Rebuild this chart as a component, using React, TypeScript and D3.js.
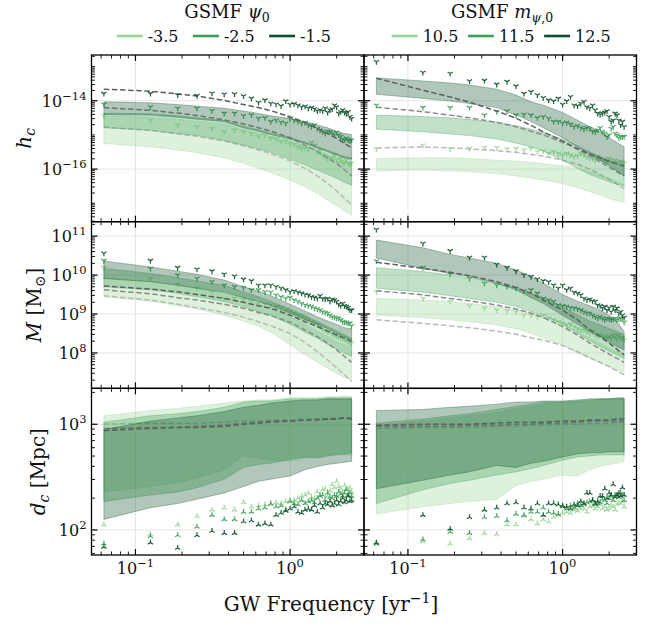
import React from "react";
import * as d3 from "d3";

// GW frequency bins f_i = i / T, T = 16 yr
const freqs = d3.range(1, 41).map((i) => i / 16);
// bins at which percentile bands and medians are tabulated
const bandIndex = [1, 2, 3, 4, 6, 8, 10, 12, 16, 20, 24, 28, 32, 36, 40];
const bandFreqs = bandIndex.map((i) => i / 16);

const psiLabels = ["-3.5", "-2.5", "-1.5"];
const mLabels = ["10.5", "11.5", "12.5"];
const groupColors = ["#98d594", "#3a9f55", "#0d5127"];
const medianColors = ["#b9b9b9", "#8b8b8b", "#5f5f5f"];

// ---- all values are log10; groups ordered [light, medium, dark] ----

// characteristic strain h_c, GSMF psi_0 variations
const hcPsiUpper = [
  [-14.44, -14.48, -14.54, -14.6, -14.67, -14.85, -14.95, -15.04, -15.18, -15.32, -15.45, -15.57, -15.67, -15.75, -15.79],
  [-14.36, -14.38, -14.44, -14.5, -14.58, -14.75, -14.85, -14.95, -15.08, -15.21, -15.34, -15.45, -15.55, -15.63, -15.67],
  [-14.03, -14.06, -14.11, -14.16, -14.22, -14.3, -14.37, -14.44, -14.52, -14.61, -14.71, -14.79, -14.89, -14.96, -14.99],
];
const hcPsiLower = [
  [-15.25, -15.35, -15.44, -15.52, -15.67, -15.83, -15.98, -16.1, -16.32, -16.52, -16.71, -16.91, -17.07, -17.23, -17.35],
  [-14.79, -14.86, -14.96, -15.02, -15.16, -15.3, -15.41, -15.51, -15.71, -15.88, -16.03, -16.16, -16.27, -16.39, -16.47],
  [-14.4, -14.42, -14.48, -14.54, -14.61, -14.79, -14.89, -14.99, -15.12, -15.25, -15.38, -15.49, -15.59, -15.67, -15.71],
];
const hcPsiMedian = [
  [-14.77, -14.87, -14.97, -15.04, -15.18, -15.32, -15.44, -15.55, -15.76, -15.98, -16.2, -16.42, -16.64, -16.86, -17.03],
  [-14.2, -14.28, -14.36, -14.43, -14.56, -14.68, -14.79, -14.89, -15.08, -15.3, -15.49, -15.67, -15.84, -16.02, -16.2],
  [-13.66, -13.72, -13.8, -13.86, -13.99, -14.11, -14.2, -14.29, -14.47, -14.64, -14.81, -14.96, -15.1, -15.25, -15.38],
];
const hcPsiLoud = [
  [-14.44, -14.57, -14.71, -14.76, -14.81, -14.91, -14.86, -14.91, -14.96, -15.05, -15.0, -15.1, -15.12, -15.2, -15.18, -15.25, -15.28, -15.35, -15.4, -15.38, -15.41, -15.22, -15.3, -15.49, -15.44, -15.59, -15.64, -15.69, -15.67, -15.69, -15.59, -15.74, -15.79, -15.69, -15.83, -15.79, -15.74, -15.83, -15.86, -15.83],
  [-14.1, -14.18, -14.22, -14.22, -14.29, -14.37, -14.37, -14.44, -14.42, -14.52, -14.5, -14.61, -14.57, -14.63, -14.66, -14.52, -14.57, -14.61, -14.66, -14.64, -14.71, -14.76, -14.71, -14.81, -14.86, -14.91, -14.96, -14.89, -14.91, -14.96, -15.0, -14.93, -15.0, -15.05, -15.12, -15.15, -15.1, -15.15, -15.18, -15.15],
  [-13.79, -13.79, -13.83, -13.85, -13.78, -13.81, -13.8, -13.86, -13.93, -14.05, -13.98, -14.08, -14.1, -14.15, -14.01, -14.11, -14.09, -14.13, -14.18, -14.16, -14.22, -14.2, -14.24, -14.3, -14.27, -14.3, -14.22, -14.34, -14.27, -14.24, -14.13, -14.18, -14.37, -14.32, -14.27, -14.34, -14.37, -14.32, -14.47, -14.52],
];

// characteristic strain h_c, GSMF m_psi,0 variations
const hcMUpper = [
  [-15.69, -15.67, -15.67, -15.69, -15.74, -15.77, -15.8, -15.84, -15.9, -15.98, -16.08, -16.18, -16.27, -16.37, -16.45],
  [-14.42, -14.46, -14.5, -14.55, -14.63, -14.73, -14.83, -14.93, -15.12, -15.32, -15.49, -15.64, -15.77, -15.86, -15.93],
  [-13.33, -13.42, -13.48, -13.54, -13.66, -13.83, -14.03, -14.13, -14.34, -14.57, -14.76, -14.91, -15.08, -15.22, -15.35],
];
const hcMLower = [
  [-16.05, -16.03, -16.05, -16.08, -16.13, -16.2, -16.27, -16.32, -16.42, -16.55, -16.66, -16.76, -16.86, -16.93, -16.98],
  [-14.83, -14.91, -14.97, -15.02, -15.12, -15.24, -15.35, -15.47, -15.74, -15.98, -16.16, -16.27, -16.37, -16.45, -16.49],
  [-13.81, -13.93, -14.01, -14.08, -14.2, -14.42, -14.61, -14.79, -15.08, -15.35, -15.57, -15.74, -15.9, -16.06, -16.2],
];
const hcMMedian = [
  [-15.38, -15.35, -15.38, -15.41, -15.46, -15.51, -15.57, -15.62, -15.74, -15.86, -16.0, -16.16, -16.3, -16.44, -16.57],
  [-14.19, -14.32, -14.42, -14.5, -14.63, -14.76, -14.89, -15.0, -15.22, -15.42, -15.61, -15.79, -15.95, -16.08, -16.2],
  [-13.34, -13.69, -13.89, -14.04, -14.3, -14.51, -14.72, -14.91, -15.18, -15.4, -15.56, -15.67, -15.77, -15.84, -15.91],
];
const hcMLoud = [
  [-15.41, -15.3, -15.41, -15.4, -15.37, -15.37, -15.41, -15.4, -15.44, -15.4, -15.49, -15.47, -15.54, -15.49, -15.54, -15.59, -15.54, -15.59, -15.64, -15.61, -15.54, -15.59, -15.64, -15.67, -15.69, -15.74, -15.64, -15.69, -15.71, -15.74, -15.77, -15.69, -15.74, -15.79, -15.74, -15.79, -15.8, -15.77, -15.79, -15.83],
  [-14.13, -14.2, -14.2, -14.2, -14.42, -14.32, -14.3, -14.42, -14.4, -14.42, -14.5, -14.47, -14.52, -14.61, -14.61, -14.66, -14.64, -14.69, -14.76, -14.73, -14.79, -14.83, -14.79, -14.81, -14.89, -14.91, -14.86, -14.79, -14.91, -14.96, -15.05, -15.0, -14.81, -14.76, -14.96, -15.0, -15.08, -15.05, -15.05, -15.05],
  [-12.86, -13.17, -13.2, -13.42, -13.41, -13.52, -13.44, -13.57, -13.79, -13.74, -13.83, -13.91, -13.98, -14.01, -13.93, -14.11, -14.01, -13.88, -14.13, -14.15, -14.08, -14.03, -14.18, -14.22, -14.13, -14.27, -14.37, -14.4, -14.37, -14.34, -14.3, -14.47, -14.61, -14.57, -14.37, -14.42, -14.57, -14.71, -14.61, -14.76],
];

// binary mass M [Msun], GSMF psi_0 variations
const massPsiUpper = [
  [9.93, 9.83, 9.74, 9.66, 9.53, 9.4, 9.27, 9.16, 8.93, 8.74, 8.56, 8.42, 8.29, 8.21, 8.16],
  [10.17, 10.04, 9.93, 9.85, 9.73, 9.57, 9.44, 9.33, 9.13, 8.96, 8.8, 8.68, 8.56, 8.46, 8.38],
  [10.36, 10.21, 10.1, 10.02, 9.87, 9.7, 9.59, 9.47, 9.25, 9.08, 8.93, 8.82, 8.74, 8.65, 8.62],
];
const massPsiLower = [
  [9.44, 9.33, 9.21, 9.13, 8.97, 8.82, 8.68, 8.53, 8.21, 7.95, 7.76, 7.61, 7.48, 7.37, 7.31],
  [9.7, 9.62, 9.53, 9.44, 9.32, 9.19, 9.06, 8.96, 8.74, 8.53, 8.38, 8.22, 8.1, 7.99, 7.91],
  [9.91, 9.83, 9.74, 9.66, 9.56, 9.42, 9.32, 9.21, 9.02, 8.85, 8.74, 8.63, 8.5, 8.42, 8.33],
];
const massPsiMedian = [
  [9.47, 9.36, 9.25, 9.16, 9.04, 8.92, 8.8, 8.7, 8.5, 8.27, 8.03, 7.82, 7.62, 7.44, 7.26],
  [9.62, 9.52, 9.42, 9.36, 9.25, 9.15, 9.04, 8.96, 8.79, 8.59, 8.42, 8.25, 8.08, 7.91, 7.76],
  [9.72, 9.64, 9.57, 9.5, 9.4, 9.3, 9.21, 9.15, 8.97, 8.8, 8.68, 8.56, 8.46, 8.38, 8.29],
];
const massPsiLoud = [
  [10.19, 9.91, 9.76, 9.66, 9.56, 9.4, 9.4, 9.38, 9.32, 9.27, 9.25, 9.23, 9.19, 9.16, 9.1, 9.06, 9.02, 8.97, 8.93, 8.89, 8.85, 8.8, 8.76, 8.72, 8.68, 8.63, 8.59, 8.55, 8.55, 8.5, 8.46, 8.44, 8.42, 8.39, 8.38, 8.36, 8.33, 8.31, 8.29, 8.25],
  [10.37, 10.17, 10.0, 9.91, 9.83, 9.74, 9.7, 9.68, 9.62, 9.62, 9.57, 9.56, 9.49, 9.44, 9.4, 9.42, 9.36, 9.32, 9.27, 9.23, 9.21, 9.19, 9.15, 9.13, 9.1, 9.06, 9.04, 9.02, 8.97, 8.93, 8.91, 8.89, 8.89, 8.85, 8.8, 8.79, 8.79, 8.76, 8.76, 8.7],
  [10.56, 10.37, 10.19, 10.15, 10.1, 10.02, 9.97, 9.89, 9.85, 9.74, 9.74, 9.74, 9.7, 9.66, 9.62, 9.57, 9.59, 9.56, 9.53, 9.5, 9.49, 9.44, 9.42, 9.4, 9.47, 9.4, 9.38, 9.4, 9.33, 9.38, 9.36, 9.32, 9.25, 9.21, 9.27, 9.21, 9.19, 9.16, 9.1, 9.1],
];

// binary mass M [Msun], GSMF m_psi,0 variations
const massMUpper = [
  [9.4, 9.36, 9.32, 9.27, 9.19, 9.1, 9.02, 8.93, 8.74, 8.55, 8.38, 8.25, 8.12, 8.03, 7.95],
  [10.19, 10.09, 10.0, 9.93, 9.79, 9.66, 9.53, 9.42, 9.19, 8.97, 8.82, 8.72, 8.63, 8.55, 8.46],
  [10.9, 10.7, 10.53, 10.44, 10.3, 10.13, 9.96, 9.79, 9.5, 9.33, 9.21, 9.1, 8.97, 8.8, 8.55],
];
const massMLower = [
  [8.97, 8.91, 8.85, 8.8, 8.72, 8.62, 8.5, 8.39, 8.21, 7.99, 7.86, 7.74, 7.65, 7.56, 7.52],
  [9.66, 9.56, 9.47, 9.4, 9.3, 9.19, 9.06, 8.96, 8.74, 8.5, 8.31, 8.16, 8.05, 7.95, 7.86],
  [10.44, 10.17, 10.04, 9.96, 9.79, 9.62, 9.42, 9.27, 8.97, 8.74, 8.55, 8.42, 8.29, 8.16, 8.08],
];
const massMMedian = [
  [8.85, 8.76, 8.7, 8.65, 8.56, 8.48, 8.39, 8.33, 8.19, 8.03, 7.88, 7.76, 7.65, 7.54, 7.44],
  [9.6, 9.49, 9.4, 9.34, 9.23, 9.13, 9.02, 8.91, 8.68, 8.46, 8.25, 8.1, 7.97, 7.86, 7.76],
  [10.33, 10.17, 10.07, 9.98, 9.83, 9.68, 9.53, 9.36, 9.1, 8.85, 8.59, 8.42, 8.25, 8.09, 7.95],
];
const massMLoud = [
  [9.57, 9.4, 9.32, 9.21, 9.15, 9.1, 9.08, 9.06, 8.97, 8.96, 8.93, 8.96, 8.89, 8.85, 8.8, 8.76, 8.72, 8.74, 8.68, 8.63, 8.59, 8.59, 8.55, 8.5, 8.55, 8.46, 8.42, 8.46, 8.42, 8.38, 8.39, 8.42, 8.38, 8.46, 8.42, 8.36, 8.46, 8.39, 8.38, 8.33],
  [10.36, 10.19, 10.02, 9.91, 9.79, 9.74, 9.7, 9.66, 9.59, 9.62, 9.53, 9.4, 9.36, 9.32, 9.23, 9.21, 9.19, 9.16, 9.15, 9.13, 9.1, 9.06, 9.02, 9.02, 8.97, 8.93, 8.89, 8.93, 8.89, 8.85, 8.89, 8.87, 8.85, 8.87, 8.89, 8.85, 8.87, 8.89, 8.89, 8.79],
  [11.17, 10.81, 10.62, 10.45, 10.45, 10.27, 10.19, 10.1, 10.0, 9.96, 9.9, 9.85, 9.83, 9.74, 9.66, 9.74, 9.62, 9.66, 9.56, 9.53, 9.49, 9.4, 9.36, 9.38, 9.33, 9.32, 9.23, 9.21, 9.15, 9.19, 9.1, 9.16, 9.06, 9.19, 9.1, 9.15, 9.02, 9.06, 8.97, 8.91],
];

// comoving distance d_c [Mpc], GSMF psi_0 variations
const distPsiUpper = [
  [3.08, 3.13, 3.15, 3.17, 3.2, 3.22, 3.23, 3.23, 3.25, 3.25, 3.25, 3.26, 3.26, 3.27, 3.26],
  [3.02, 3.08, 3.1, 3.12, 3.16, 3.21, 3.22, 3.22, 3.24, 3.24, 3.24, 3.25, 3.25, 3.25, 3.25],
  [2.95, 3.03, 3.06, 3.08, 3.12, 3.16, 3.18, 3.2, 3.22, 3.23, 3.23, 3.24, 3.24, 3.24, 3.24],
];
const distPsiLower = [
  [2.36, 2.41, 2.45, 2.49, 2.57, 2.7, 2.68, 2.66, 2.65, 2.68, 2.69, 2.71, 2.72, 2.71, 2.71],
  [2.27, 2.33, 2.36, 2.4, 2.48, 2.59, 2.62, 2.63, 2.67, 2.69, 2.68, 2.7, 2.71, 2.72, 2.73],
  [2.1, 2.21, 2.25, 2.29, 2.35, 2.41, 2.46, 2.48, 2.51, 2.57, 2.6, 2.62, 2.63, 2.64, 2.65],
];
const distPsiMedian = [
  [3.0, 3.01, 3.01, 3.01, 3.02, 3.03, 3.03, 3.04, 3.04, 3.05, 3.05, 3.05, 3.06, 3.06, 3.05],
  [2.96, 2.97, 2.97, 2.98, 2.99, 3.01, 3.02, 3.03, 3.03, 3.04, 3.05, 3.05, 3.05, 3.06, 3.06],
  [2.94, 2.96, 2.97, 2.97, 2.98, 3.0, 3.01, 3.02, 3.03, 3.04, 3.04, 3.05, 3.05, 3.06, 3.05],
];
const distPsiLoud = [
  [2.05, 1.96, 2.05, 2.13, 2.19, 2.21, 2.19, 2.26, 2.22, 2.23, 2.24, 2.24, 2.26, 2.25, 2.27, 2.28, 2.28, 2.3, 2.32, 2.33, 2.35, 2.31, 2.3, 2.36, 2.33, 2.38, 2.39, 2.32, 2.37, 2.43, 2.4, 2.46, 2.41, 2.39, 2.35, 2.42, 2.39, 2.38, 2.4, 2.36],
  [1.87, 1.94, 1.95, 2.03, 2.14, 2.1, 2.1, 2.17, 2.17, 2.2, 2.21, 2.25, 2.22, 2.23, 2.19, 2.27, 2.25, 2.24, 2.28, 2.25, 2.27, 2.28, 2.26, 2.3, 2.32, 2.33, 2.28, 2.35, 2.31, 2.3, 2.33, 2.32, 2.36, 2.34, 2.32, 2.35, 2.38, 2.33, 2.35, 2.32],
  [1.84, 1.88, 1.83, 1.95, 1.99, 1.97, 1.97, 2.08, 2.09, 2.05, 2.06, 2.05, 2.14, 2.16, 2.18, 2.2, 2.22, 2.17, 2.16, 2.19, 2.2, 2.19, 2.23, 2.17, 2.25, 2.21, 2.25, 2.24, 2.27, 2.23, 2.25, 2.28, 2.24, 2.27, 2.3, 2.26, 2.28, 2.32, 2.27, 2.28],
];

// comoving distance d_c [Mpc], GSMF m_psi,0 variations
const distMUpper = [
  [2.99, 3.03, 3.06, 3.08, 3.11, 3.15, 3.17, 3.19, 3.21, 3.21, 3.22, 3.23, 3.24, 3.24, 3.24],
  [3.01, 3.05, 3.08, 3.1, 3.14, 3.17, 3.19, 3.21, 3.21, 3.22, 3.23, 3.24, 3.24, 3.24, 3.24],
  [3.13, 3.14, 3.16, 3.17, 3.19, 3.21, 3.21, 3.22, 3.22, 3.23, 3.24, 3.24, 3.24, 3.25, 3.25],
];
const distMLower = [
  [2.15, 2.22, 2.25, 2.27, 2.29, 2.42, 2.46, 2.48, 2.52, 2.51, 2.57, 2.6, 2.62, 2.63, 2.65],
  [2.25, 2.38, 2.44, 2.47, 2.52, 2.55, 2.58, 2.61, 2.66, 2.69, 2.7, 2.71, 2.71, 2.71, 2.71],
  [2.39, 2.47, 2.52, 2.55, 2.61, 2.59, 2.63, 2.65, 2.69, 2.72, 2.73, 2.73, 2.74, 2.74, 2.74],
];
const distMMedian = [
  [2.96, 2.97, 2.97, 2.97, 2.98, 2.98, 2.99, 2.99, 3.0, 3.0, 3.01, 3.01, 3.01, 3.02, 3.02],
  [2.98, 2.98, 2.98, 2.99, 2.99, 3.0, 3.0, 3.01, 3.01, 3.02, 3.03, 3.03, 3.03, 3.03, 3.03],
  [2.99, 3.0, 3.0, 3.0, 3.01, 3.02, 3.02, 3.02, 3.03, 3.03, 3.04, 3.04, 3.04, 3.05, 3.05],
];
const distMLoud = [
  [1.87, 1.89, 1.87, 1.92, 1.97, 1.96, 2.05, 2.05, 2.13, 2.1, 2.06, 2.1, 2.08, 2.12, 2.14, 2.16, 2.17, 2.16, 2.19, 2.18, 2.2, 2.2, 2.17, 2.22, 2.23, 2.2, 2.22, 2.24, 2.2, 2.22, 2.19, 2.2, 2.23, 2.22, 2.19, 2.24, 2.26, 2.25, 2.27, 2.22],
  [1.87, 1.91, 1.98, 1.97, 2.12, 2.13, 2.09, 2.15, 2.14, 2.17, 2.17, 2.21, 2.17, 2.16, 2.15, 2.22, 2.2, 2.23, 2.21, 2.25, 2.23, 2.24, 2.26, 2.27, 2.28, 2.24, 2.25, 2.26, 2.29, 2.28, 2.25, 2.3, 2.32, 2.28, 2.33, 2.32, 2.31, 2.35, 2.33, 2.28],
  [1.88, 2.14, 2.01, 2.12, 2.19, 2.21, 2.25, 2.26, 2.21, 2.2, 2.25, 2.14, 2.25, 2.25, 2.24, 2.23, 2.22, 2.2, 2.24, 2.23, 2.27, 2.25, 2.35, 2.35, 2.28, 2.25, 2.27, 2.32, 2.32, 2.39, 2.3, 2.35, 2.33, 2.43, 2.31, 2.33, 2.35, 2.32, 2.4, 2.33],
];

// axis ranges (log10) and labelled decades
const xRange = [-1.2842, 0.478];
const xMajors = [-1, 0];
const rowSpecs = [
  { lo: -17.54, hi: -12.66, majors: [-16, -14] },
  { lo: 7.09, hi: 11.37, majors: [8, 9, 10, 11] },
  { lo: 1.763, hi: 3.34, majors: [2, 3] },
];

// figure geometry
const FONT = "DejaVu Serif";
const colX = [91.5, 364];
const colW = 272.5;
const rowY = [55, 221.7, 388.3];
const rowH = 166.7;

const panelData = [
  [
    { upper: hcPsiUpper, lower: hcPsiLower, median: hcPsiMedian, loud: hcPsiLoud },
    { upper: hcMUpper, lower: hcMLower, median: hcMMedian, loud: hcMLoud },
  ],
  [
    { upper: massPsiUpper, lower: massPsiLower, median: massPsiMedian, loud: massPsiLoud },
    { upper: massMUpper, lower: massMLower, median: massMMedian, loud: massMLoud },
  ],
  [
    { upper: distPsiUpper, lower: distPsiLower, median: distPsiMedian, loud: distPsiLoud },
    { upper: distMUpper, lower: distMLower, median: distMMedian, loud: distMLoud },
  ],
];

function minorTicks(lo: number, hi: number, majors: number[]) {
  const out: number[] = [];
  for (let e = Math.floor(lo); e <= Math.ceil(hi); e++) {
    for (let k = 1; k < 10; k++) {
      const v = e + Math.log10(k);
      if (v < lo || v > hi) continue;
      if (k === 1 && majors.includes(e)) continue;
      out.push(v);
    }
  }
  return out;
}

function triPath(r: number, up: boolean) {
  const a = 0.866 * r;
  const b = 0.5 * r;
  return up
    ? `M0,0V${-r}M0,0L${-a},${b}M0,0L${a},${b}`
    : `M0,0V${r}M0,0L${-a},${-b}M0,0L${a},${-b}`;
}

function expText(e: number) {
  return e < 0 ? `\u2212${-e}` : `${e}`;
}

function Panel({ r, c }: { r: number; c: number }) {
  const spec = rowSpecs[r];
  const d = panelData[r][c];
  const x0 = colX[c];
  const y0 = rowY[r];
  const xs = d3.scaleLog().domain([10 ** xRange[0], 10 ** xRange[1]]).range([x0, x0 + colW]);
  const ys = d3.scaleLog().domain([10 ** spec.lo, 10 ** spec.hi]).range([y0 + rowH, y0]);
  const clipId = `clip-${r}-${c}`;
  const up = r === 2;

  const bandPath = (lo: number[], hi: number[]) =>
    d3
      .area<number>()
      .x((_, i) => xs(bandFreqs[i]))
      .y0((_, i) => ys(10 ** lo[i]))
      .y1((_, i) => ys(10 ** hi[i]))(lo) || "";
  const medPath = (vals: number[]) =>
    d3
      .line<number>()
      .x((_, i) => xs(bandFreqs[i]))
      .y((v) => ys(10 ** v))(vals) || "";

  const xMinor = minorTicks(xRange[0], xRange[1], xMajors);
  const yMinor = minorTicks(spec.lo, spec.hi, spec.majors);
  const x1 = x0 + colW;
  const y1 = y0 + rowH;
  const MAJ = 6;
  const MIN = 3.5;
  const tri = triPath(3.0, up);

  return (
    <g>
      <defs>
        <clipPath id={clipId}>
          <rect x={x0} y={y0} width={colW} height={rowH} />
        </clipPath>
      </defs>
      {/* grid at labelled decades */}
      <g stroke="#e6e6e6" strokeWidth={1}>
        {xMajors.map((e) => (
          <line key={`gx${e}`} x1={xs(10 ** e)} x2={xs(10 ** e)} y1={y0} y2={y1} />
        ))}
        {spec.majors.map((e) => (
          <line key={`gy${e}`} x1={x0} x2={x1} y1={ys(10 ** e)} y2={ys(10 ** e)} />
        ))}
      </g>
      <g clipPath={`url(#${clipId})`}>
        {[0, 1, 2].map((g) => (
          <g key={g}>
            <path
              d={bandPath(d.lower[g], d.upper[g])}
              fill={groupColors[g]}
              fillOpacity={0.32}
              stroke={groupColors[g]}
              strokeOpacity={0.32}
              strokeWidth={1}
            />
            <path
              d={medPath(d.median[g])}
              fill="none"
              stroke={medianColors[g]}
              strokeWidth={1.5}
              strokeDasharray="5.5,2.6"
            />
            <g stroke={groupColors[g]} strokeWidth={1.25} fill="none" opacity={0.9}>
              {d.loud[g].map((v, i) => (
                <path key={i} d={tri} transform={`translate(${xs(freqs[i])},${ys(10 ** v)})`} />
              ))}
            </g>
          </g>
        ))}
      </g>
      {/* inward ticks on all four sides */}
      <g stroke="#000" strokeWidth={0.9}>
        {xMinor.map((v, i) => {
          const x = xs(10 ** v);
          return (
            <g key={`xm${i}`}>
              <line x1={x} x2={x} y1={y1} y2={y1 - MIN} />
              <line x1={x} x2={x} y1={y0} y2={y0 + MIN} />
            </g>
          );
        })}
        {yMinor.map((v, i) => {
          const y = ys(10 ** v);
          return (
            <g key={`ym${i}`}>
              <line x1={x0} x2={x0 + MIN} y1={y} y2={y} />
              <line x1={x1} x2={x1 - MIN} y1={y} y2={y} />
            </g>
          );
        })}
      </g>
      <g stroke="#000" strokeWidth={1.2}>
        {xMajors.map((e) => {
          const x = xs(10 ** e);
          return (
            <g key={`xM${e}`}>
              <line x1={x} x2={x} y1={y1} y2={y1 - MAJ} />
              <line x1={x} x2={x} y1={y0} y2={y0 + MAJ} />
            </g>
          );
        })}
        {spec.majors.map((e) => {
          const y = ys(10 ** e);
          return (
            <g key={`yM${e}`}>
              <line x1={x0} x2={x0 + MAJ} y1={y} y2={y} />
              <line x1={x1} x2={x1 - MAJ} y1={y} y2={y} />
            </g>
          );
        })}
      </g>
      <rect x={x0} y={y0} width={colW} height={rowH} fill="none" stroke="#000" strokeWidth={1.3} />
      {c === 0 &&
        spec.majors.map((e) => (
          <text
            key={`yl${e}`}
            x={x0 - 5}
            y={ys(10 ** e) + 5.8}
            textAnchor="end"
            fontFamily={FONT}
            fontSize={16}
            fill="#111"
          >
            10
            <tspan dy={-7} fontSize={11.5}>
              {expText(e)}
            </tspan>
          </text>
        ))}
      {r === 2 &&
        xMajors.map((e) => (
          <text
            key={`xl${e}`}
            x={xs(10 ** e)}
            y={y1 + 19}
            textAnchor="middle"
            fontFamily={FONT}
            fontSize={16}
            fill="#111"
          >
            10
            <tspan dy={-7} fontSize={11.5}>
              {expText(e)}
            </tspan>
          </text>
        ))}
    </g>
  );
}

const LEGEND_ROW_Y = 36;
const LEGEND_TITLE_Y = 18;

function Legend({ cx, title, labels }: { cx: number; title: React.ReactNode; labels: string[] }) {
  const lineW = 26;
  const gapText = 5;
  const gapEntry = 8;
  const textW = (s: string) => s.length * 9.3;
  const widths = labels.map((s) => lineW + gapText + textW(s));
  const total = d3.sum(widths) + gapEntry * (labels.length - 1);
  let x = cx - total / 2;
  const entries = labels.map((s, g) => {
    const ex = x;
    x += widths[g] + gapEntry;
    return (
      <g key={s}>
        <line
          x1={ex}
          x2={ex + lineW}
          y1={LEGEND_ROW_Y}
          y2={LEGEND_ROW_Y}
          stroke={groupColors[g]}
          strokeWidth={2.6}
        />
        <text x={ex + lineW + gapText} y={LEGEND_ROW_Y + 5.8} fontFamily={FONT} fontSize={16} fill="#111">
          {s}
        </text>
      </g>
    );
  });
  return (
    <g>
      <text x={cx} y={LEGEND_TITLE_Y} textAnchor="middle" fontFamily={FONT} fontSize={18} fill="#111">
        {title}
      </text>
      {entries}
    </g>
  );
}

export default function App() {
  return (
    <svg
      width={662}
      height={626}
      style={{ position: "absolute", left: 0, top: 0, background: "#fff" }}
    >
      <rect width={662} height={626} fill="#fff" />
      <Legend
        cx={227}
        labels={psiLabels}
        title={
          <>
            GSMF <tspan fontStyle="italic">ψ</tspan>
            <tspan fontSize={12.5} dy={4}>
              0
            </tspan>
          </>
        }
      />
      <Legend
        cx={502}
        labels={mLabels}
        title={
          <>
            GSMF <tspan fontStyle="italic">m</tspan>
            <tspan fontSize={12.5} dy={4}>
              <tspan fontStyle="italic">ψ</tspan>,0
            </tspan>
          </>
        }
      />
      {[0, 1, 2].map((r) =>
        [0, 1].map((c) => <Panel key={`${r}-${c}`} r={r} c={c} />)
      )}
      {/* y-axis labels */}
      <text
        transform={`translate(31,${rowY[0] + rowH / 2}) rotate(-90)`}
        textAnchor="middle"
        fontFamily={FONT}
        fontSize={20}
        fill="#111"
      >
        <tspan fontStyle="italic">h</tspan>
        <tspan fontStyle="italic" fontSize={14} dy={4}>
          c
        </tspan>
      </text>
      <text
        transform={`translate(41,${rowY[1] + rowH / 2}) rotate(-90)`}
        textAnchor="middle"
        fontFamily={FONT}
        fontSize={20}
        fill="#111"
      >
        <tspan fontStyle="italic">M</tspan> [M
        <tspan fontSize={14} dy={4}>
          ⊙
        </tspan>
        <tspan dy={-4}>]</tspan>
      </text>
      <text
        transform={`translate(45,${rowY[2] + rowH / 2}) rotate(-90)`}
        textAnchor="middle"
        fontFamily={FONT}
        fontSize={20}
        fill="#111"
      >
        <tspan fontStyle="italic">d</tspan>
        <tspan fontStyle="italic" fontSize={14} dy={4}>
          c
        </tspan>
        <tspan dy={-4}> [Mpc]</tspan>
      </text>
      {/* shared x-axis label */}
      <text x={331} y={611} textAnchor="middle" fontFamily={FONT} fontSize={20} fill="#111">
        GW Frequency [yr
        <tspan fontSize={14} dy={-8}>
          −1
        </tspan>
        <tspan dy={8}>]</tspan>
      </text>
    </svg>
  );
}
